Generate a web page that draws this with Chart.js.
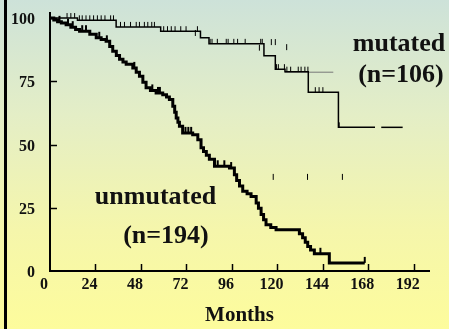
<!DOCTYPE html>
<html lang="en">
<head>
    <meta charset="UTF-8">
    <title>Survival by mutation status</title>
    <script src="https://cdn.jsdelivr.net/npm/chart.js"></script>
    <style>
        body { margin: 0; }
        #wrap {
            position: relative;
            width: 449px;
            height: 329px;
            background: linear-gradient(to bottom, #cde2d9 0%, #e4eec6 35%, #f5f6ab 70%, #fdfc9c 100%);
        }
        #edge { position: absolute; left: 4px; top: 0; width: 3px; height: 329px; background: #000; }
        canvas { position: absolute; left: 0; top: 0; }
    </style>
</head>
<body>
    <div id="wrap">
        <div id="edge"></div>
        <canvas id="kmChart" width="449" height="329"></canvas>
    </div>

    <script>
        // tick labels
        const xTicks = [0, 24, 48, 72, 96, 120, 144, 168, 192];
        const yTicks = [0, 25, 50, 75, 100];

        // mutated (n=106): step times (months) and survival (%)
        const mutMonths = [0, 14.5, 34.9, 58.4, 79.4, 83.9, 112.9, 118.9, 124, 136.3, 152.2, 171.5];
        const mutSurv   = [100, 99.1, 96.5, 94.8, 92.2, 89.8, 85.1, 79.8, 78.8, 70.7, 56.8, 56.8];
        const mutTailMonths = [174.8, 186.1];
        const mutTailSurv   = [56.8, 56.8];
        const mutCensored = [9, 11, 13, 15.5, 17, 19, 21, 23, 25, 27, 29, 32, 33.5, 37.2, 39.3, 42.5, 45.5,
            47.2, 49.8, 51.6, 53.7, 55.1, 60, 62, 64, 66, 69, 71.8, 77.8, 84.5, 85.5, 88.3, 93, 94, 97, 99,
            103, 111.2, 112, 119.5, 120.5, 123.7, 125, 127, 131, 132.5, 134.5, 136.1, 140, 142, 144, 152.6];

        // stray grey segment on the mutated curve
        const greyMonths = [124, 149.5];
        const greySurv   = [78.6, 78.6];

        // unmutated (n=194)
        const unmutMonths = [0, 2, 4, 6, 8.5, 11, 13.5, 15.6, 21, 24.4, 27, 29.6, 31.5, 33.1, 35, 36.7, 38.5,
            40.2, 43.7, 45.5, 47.2, 49, 50.7, 53, 56, 59.5, 61.5, 63, 64.8, 65.8, 66.6, 67.5, 68.3, 70, 75.3,
            78, 79.7, 81, 82.5, 84.1, 86.8, 94.7, 97.3, 98.5, 100, 101.7, 104, 106.1, 108.8, 110, 111.4,
            112.7, 114, 116.5, 119.3, 131.6, 133.3, 134.7, 136, 137.5, 139.5, 147.4, 166.1];
        const unmutSurv = [100, 99.2, 98.5, 98, 97.4, 96.4, 95.5, 94.8, 93.6, 92.2, 91.5, 90.8, 88.8, 86.9,
            85.2, 83.7, 82.6, 81.7, 80.3, 78.6, 77, 74.6, 72.4, 71.4, 70.4, 69.7, 68.8, 67.8, 65.1, 62.8,
            60.5, 58.8, 57.2, 54.6, 53.9, 51.9, 48.7, 47.2, 45.8, 44.2, 41.4, 40.7, 38.1, 35.8, 33.6, 31.5,
            30.5, 29.5, 26.9, 24.8, 22.3, 20.3, 18.3, 17.2, 16.3, 14.7, 13.1, 11.4, 9.7, 8.3, 6.8, 3.2, 3.2];
        const unmutCensored = [5, 9.5, 12, 17, 19, 26, 30, 44.5, 54, 57, 58, 71.5, 73, 74.5, 88.5, 92, 95.6, 142.7, 166.1];

        // loose tick marks that sit off the curves
        const looseMonths = [76.7, 110.5, 116.8, 118.9, 124.9, 117.8, 135.9, 154.3];
        const looseSurv   = [94.1, 88.3, 90.5, 90.5, 88.5, 37.2, 37.2, 37.2];

        const groupLabels = [
            { text: 'mutated', month: 184.2, surv: 89.5 },
            { text: '(n=106)', month: 185.2, surv: 77.2 },
            { text: 'unmutated', month: 55.7, surv: 29.3 },
            { text: '(n=194)', month: 61.2, surv: 13.9 }
        ];

        const serif = '"Liberation Serif", "Times New Roman", serif';
        const toPoints = (xs, ys) => xs.map((x, i) => ({ x: x, y: ys[i] }));

        function stepValue(months, surv, t) {
            let v = surv[0];
            for (let i = 0; i < months.length; i++) {
                if (months[i] <= t) v = surv[i];
            }
            return v;
        }

        const decorations = {
            id: 'decorations',
            afterDatasetsDraw(chart) {
                const ctx = chart.ctx;
                const xs = chart.scales.x;
                const ys = chart.scales.y;
                const area = chart.chartArea;
                ctx.save();
                ctx.strokeStyle = '#000';

                // inward tick marks
                ctx.lineWidth = 1.5;
                xTicks.forEach(t => {
                    if (t === 0) return;
                    const px = Math.round(xs.getPixelForValue(t)) + 0.5;
                    ctx.beginPath();
                    ctx.moveTo(px, area.bottom);
                    ctx.lineTo(px, area.bottom - 7);
                    ctx.stroke();
                });
                yTicks.forEach(t => {
                    if (t === 0) return;
                    const py = Math.round(ys.getPixelForValue(t)) + 0.5;
                    ctx.beginPath();
                    ctx.moveTo(area.left, py);
                    ctx.lineTo(area.left + 7, py);
                    ctx.stroke();
                });

                // censor ticks
                ctx.lineWidth = 1;
                mutCensored.forEach(t => {
                    const px = xs.getPixelForValue(t);
                    const v = t > 172 ? mutTailSurv[0] : stepValue(mutMonths, mutSurv, t);
                    const py = ys.getPixelForValue(v);
                    ctx.beginPath();
                    ctx.moveTo(px, py);
                    ctx.lineTo(px, py - 5);
                    ctx.stroke();
                });
                ctx.lineWidth = 2;
                unmutCensored.forEach(t => {
                    const px = xs.getPixelForValue(t);
                    const py = ys.getPixelForValue(stepValue(unmutMonths, unmutSurv, t));
                    ctx.beginPath();
                    ctx.moveTo(px, py);
                    ctx.lineTo(px, py - 6);
                    ctx.stroke();
                });
                ctx.lineWidth = 1;
                looseMonths.forEach((t, i) => {
                    const px = xs.getPixelForValue(t);
                    const py = ys.getPixelForValue(looseSurv[i]);
                    ctx.beginPath();
                    ctx.moveTo(px, py - 3);
                    ctx.lineTo(px, py + 3);
                    ctx.stroke();
                });

                // group labels
                ctx.fillStyle = '#111';
                ctx.font = 'bold 26px ' + serif;
                ctx.textAlign = 'center';
                ctx.textBaseline = 'middle';
                groupLabels.forEach(l => {
                    ctx.fillText(l.text, xs.getPixelForValue(l.month), ys.getPixelForValue(l.surv));
                });
                ctx.restore();
            }
        };

        new Chart(document.getElementById('kmChart').getContext('2d'), {
            type: 'line',
            data: {
                datasets: [
                    {
                        label: 'mutated',
                        data: toPoints(mutMonths, mutSurv),
                        stepped: true,
                        borderColor: '#000',
                        borderWidth: 1.5,
                        pointRadius: 0,
                        fill: false
                    },
                    {
                        label: 'mutated tail',
                        data: toPoints(mutTailMonths, mutTailSurv),
                        stepped: true,
                        borderColor: '#000',
                        borderWidth: 1.5,
                        pointRadius: 0,
                        fill: false
                    },
                    {
                        label: 'grey',
                        data: toPoints(greyMonths, greySurv),
                        borderColor: '#777',
                        borderWidth: 1,
                        pointRadius: 0,
                        fill: false
                    },
                    {
                        label: 'unmutated',
                        data: toPoints(unmutMonths, unmutSurv),
                        stepped: true,
                        borderColor: '#000',
                        borderWidth: 3,
                        pointRadius: 0,
                        fill: false
                    }
                ]
            },
            options: {
                responsive: false,
                animation: false,
                devicePixelRatio: 1,
                layout: { padding: { left: 0, top: 13, right: 20, bottom: 0 } },
                plugins: {
                    legend: { display: false },
                    tooltip: { enabled: false }
                },
                scales: {
                    x: {
                        type: 'linear',
                        min: 0,
                        max: 200,
                        afterFit: s => {
                            s.height = 58;
                            s.paddingLeft = 0;
                            s.paddingRight = 0;
                        },
                        afterBuildTicks: s => { s.ticks = xTicks.map(v => ({ value: v })); },
                        grid: { display: true, drawOnChartArea: false, drawTicks: false },
                        border: { display: true, color: '#000', width: 2 },
                        ticks: {
                            color: '#111',
                            font: { family: serif, size: 16, weight: 'bold' },
                            padding: 4,
                            labelOffset: -6,
                            maxRotation: 0
                        },
                        title: {
                            display: true,
                            text: 'Months',
                            color: '#111',
                            font: { family: serif, size: 21, weight: 'bold' },
                            padding: { top: 0, bottom: 1 }
                        }
                    },
                    y: {
                        min: 0,
                        max: 102,
                        afterFit: s => {
                            s.width = 50;
                            s.paddingTop = 0;
                            s.paddingBottom = 0;
                        },
                        afterBuildTicks: s => { s.ticks = yTicks.map(v => ({ value: v })); },
                        grid: { display: true, drawOnChartArea: false, drawTicks: false },
                        border: { display: true, color: '#000', width: 2 },
                        ticks: {
                            color: '#111',
                            font: { family: serif, size: 16, weight: 'bold' },
                            padding: 15,
                            labelOffset: 2
                        }
                    }
                }
            },
            plugins: [decorations]
        });
    </script>
</body>
</html>
